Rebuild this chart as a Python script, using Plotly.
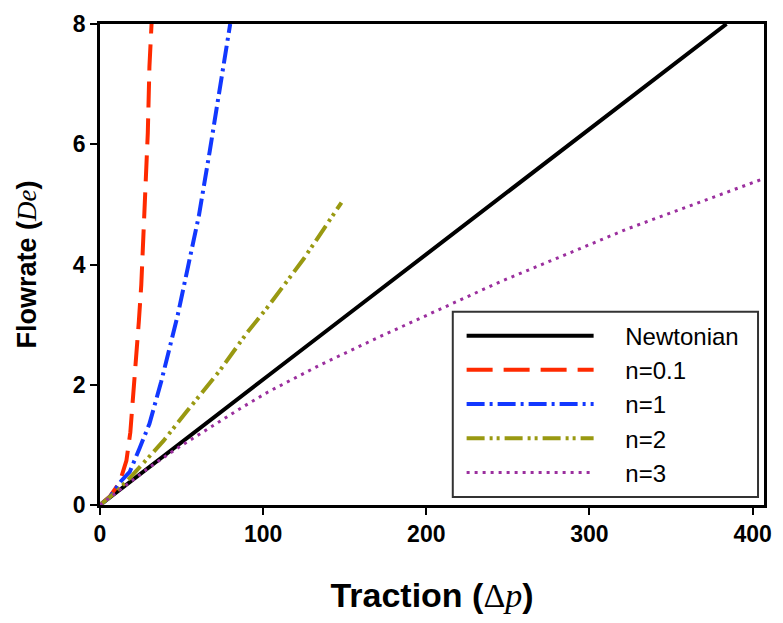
import plotly.graph_objects as go

# ---- data ----
newt_x = [0, 30, 68.6, 103, 151.5, 204, 253, 319, 384]
newt_y = [0, 0.63, 1.43, 2.15, 3.16, 4.25, 5.28, 6.65, 8.0]

n01_x = [0, 6, 12.1, 14.1, 16.2, 18.6, 20.2, 22.2, 23.8, 25.3, 26.3, 27.9, 29.3, 30.3, 31.3, 31.6]
n01_y = [0, 0.14, 0.38, 0.58, 0.74, 1.21, 1.73, 2.39, 3.05, 3.66, 4.26, 5.14, 6.19, 7.29, 7.89, 8.0]

n1_x = [0, 6, 13, 18.2, 24.2, 30.3, 37.4, 47.5, 54, 60.6, 67.3, 73.7, 79.8]
n1_y = [0, 0.13, 0.4, 0.55, 0.94, 1.35, 2.04, 3.14, 3.97, 4.81, 5.89, 6.99, 8.0]

n2_x = [0, 10, 20, 26, 39, 53, 73, 90, 103, 125, 148]
n2_y = [0, 0.22, 0.5, 0.68, 1.07, 1.55, 2.22, 2.86, 3.3, 4.1, 5.03]

n3_x = [0, 15, 30, 46.5, 66.7, 86.9, 103, 135, 170, 210, 245, 285, 323, 360, 400, 407]
n3_y = [0, 0.31, 0.62, 0.93, 1.28, 1.62, 1.88, 2.33, 2.78, 3.28, 3.71, 4.16, 4.59, 4.96, 5.37, 5.43]

names = ["Newtonian", "n=0.1", "n=1", "n=2", "n=3"]
x_ticks = [0, 100, 200, 300, 400]
y_ticks = [0, 2, 4, 6, 8]

series = [
    (newt_x, newt_y, "#000000", "solid", 4),
    (n01_x, n01_y, "#ff2a00", "26px,11px", 4),
    (n1_x, n1_y, "#1238ff", "18px,5px,3px,5px", 4),
    (n2_x, n2_y, "#999911", "18px,5px,3px,4px,3px,5px", 4),
    (n3_x, n3_y, "#9b2f9e", "3px,5px", 3),
]

fig = go.Figure()
for name, (xs, ys, col, dash, w) in zip(names, series):
    fig.add_trace(go.Scatter(
        x=xs, y=ys, mode="lines", name="\u00a0" * 4 + name, legendgroup=name,
        line=dict(color=col, dash=dash, width=w),
    ))

tick_font = dict(family="Liberation Sans", size=23, color="black", weight="bold")
xtitle_font = dict(family="Liberation Sans", size=34, color="black", weight="bold")
ytitle_font = dict(family="Liberation Sans", size=27, color="black", weight="bold")
serif_i = "font-family:'Liberation Serif';font-weight:normal;font-style:italic"
serif = "font-family:'Liberation Serif';font-weight:normal"

# legend frame (box drawn as a shape so it can be sized like the reference)
fig.add_shape(type="rect", xref="paper", yref="paper",
              x0=0.5313, x1=0.991, y0=0.0165, y1=0.402,
              line=dict(color="#333333", width=2), fillcolor="white", layer="above")

fig.update_layout(
    width=783, height=623,
    margin=dict(l=100, r=11, t=20, b=118),
    plot_bgcolor="white", paper_bgcolor="white",
    showlegend=True,
    legend=dict(
        x=0.5446, y=0.398, xanchor="left", yanchor="top",
        bgcolor="rgba(0,0,0,0)", borderwidth=0,
        font=dict(family="Liberation Sans", size=24, color="black"),
        itemwidth=127, tracegroupgap=0,
    ),
    xaxis=dict(
        range=[0, 407], tickvals=x_ticks, ticks="outside", ticklen=7, tickwidth=2,
        tickcolor="black", showline=True, linecolor="black", linewidth=2.5, mirror=True,
        showgrid=False, zeroline=False, tickfont=tick_font,
        title=dict(text=f"Traction (<span style=\"{serif}\">Δ<i>p</i></span>)",
                   font=xtitle_font, standoff=37),
    ),
    yaxis=dict(
        range=[0, 8], tickvals=y_ticks, ticks="outside", ticklen=7, tickwidth=2,
        tickcolor="black", showline=True, linecolor="black", linewidth=2.5, mirror=True,
        showgrid=False, zeroline=False, tickfont=tick_font,
        title=dict(text=f"Flowrate (<span style=\"{serif_i}\">De</span>)",
                   font=ytitle_font, standoff=29),
    ),
)

fig.write_html("out.html")
